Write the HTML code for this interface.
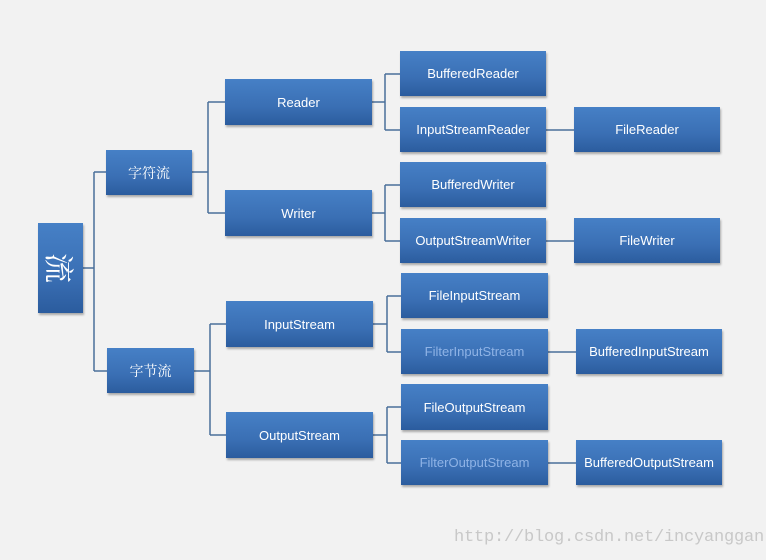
<!DOCTYPE html>
<html><head><meta charset="utf-8"><style>
body{margin:0;width:777px;height:560px;background:#f2f2f2;position:relative;overflow:hidden;font-family:"Liberation Sans","Noto Sans CJK SC",sans-serif}
.b{position:absolute;background:linear-gradient(#4680c6,#3a6fb4 60%,#2b5c9e);color:#fff;font-size:13px;display:flex;align-items:center;justify-content:center;box-shadow:1px 2px 2px rgba(0,0,0,.3);white-space:nowrap}
.f{color:#8fb3e6}
svg{position:absolute;left:0;top:0}
.w{position:absolute;left:454px;top:528px;font-family:"Liberation Mono",monospace;font-size:17px;letter-spacing:-0.2px;color:#c8c8c8}
.edge{position:absolute;left:766px;top:0;width:11px;height:560px;background:#fff}
</style></head><body>
<div class="edge"></div>
<svg width="777" height="560"><g stroke="#4a6f9a" stroke-width="1.5" fill="none">
<path d="M83 268H94M94 172V371M94 172H106M94 371H107"/>
<path d="M192 172H208M208 102V213M208 102H225M208 213H225"/>
<path d="M194 371H210M210 324V435M210 324H226M210 435H226"/>
<path d="M372 102H385M385 74V130M385 74H400M385 130H400"/>
<path d="M372 213H385M385 185V241M385 185H400M385 241H400"/>
<path d="M373 324H387M387 296V352M387 296H401M387 352H401"/>
<path d="M373 435H387M387 407V463M387 407H401M387 463H401"/>
<path d="M546 130H574M546 241H574M548 352H576M548 463H576"/>
</g></svg>
<div class="b" style="left:38px;top:223px;width:45px;height:90px;font-size:30px;font-family:'Noto Serif CJK SC',serif"><span style="display:inline-block;transform:rotate(90deg)">流</span></div>
<div class="b" style="left:106px;top:150px;width:86px;height:45px;font-family:'Noto Serif CJK SC',serif;font-size:14px">字符流</div>
<div class="b" style="left:107px;top:348px;width:87px;height:45px;font-family:'Noto Serif CJK SC',serif;font-size:14px">字节流</div>
<div class="b" style="left:225px;top:79px;width:147px;height:46px">Reader</div>
<div class="b" style="left:225px;top:190px;width:147px;height:46px">Writer</div>
<div class="b" style="left:226px;top:301px;width:147px;height:46px">InputStream</div>
<div class="b" style="left:226px;top:412px;width:147px;height:46px">OutputStream</div>
<div class="b" style="left:400px;top:51px;width:146px;height:45px">BufferedReader</div>
<div class="b" style="left:400px;top:107px;width:146px;height:45px">InputStreamReader</div>
<div class="b" style="left:400px;top:162px;width:146px;height:45px">BufferedWriter</div>
<div class="b" style="left:400px;top:218px;width:146px;height:45px">OutputStreamWriter</div>
<div class="b" style="left:401px;top:273px;width:147px;height:45px">FileInputStream</div>
<div class="b f" style="left:401px;top:329px;width:147px;height:45px">FilterInputStream</div>
<div class="b" style="left:401px;top:384px;width:147px;height:46px">FileOutputStream</div>
<div class="b f" style="left:401px;top:440px;width:147px;height:45px">FilterOutputStream</div>
<div class="b" style="left:574px;top:107px;width:146px;height:45px">FileReader</div>
<div class="b" style="left:574px;top:218px;width:146px;height:45px">FileWriter</div>
<div class="b" style="left:576px;top:329px;width:146px;height:45px">BufferedInputStream</div>
<div class="b" style="left:576px;top:440px;width:146px;height:45px">BufferedOutputStream</div>
<div class="w">http://blog.csdn.net/incyanggan</div>
</body></html>
